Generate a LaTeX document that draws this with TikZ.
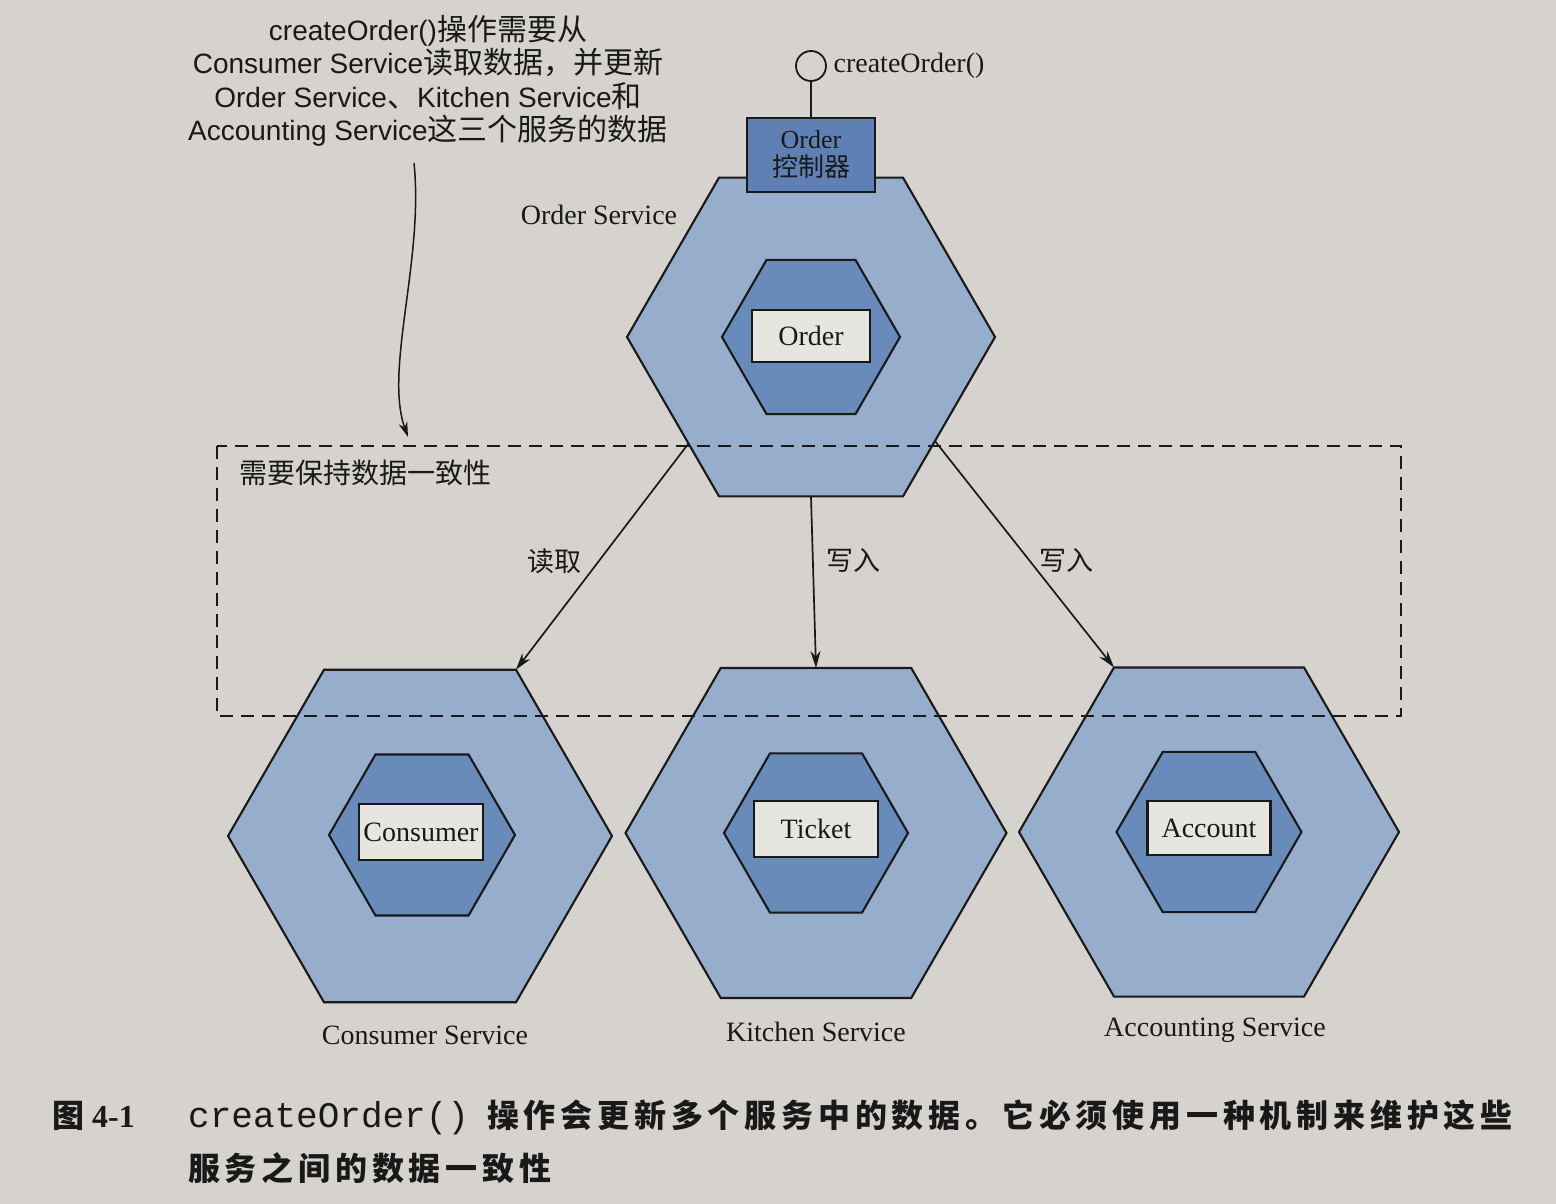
\documentclass[tikz,border=0pt]{standalone}
\usepackage{fontspec}
\setmainfont{Liberation Serif}
\newfontfamily\cjk{Noto Sans CJK SC}
\newfontfamily\cjkcap[LetterSpace=15]{Noto Sans CJK SC}
\newfontfamily\ansans{Liberation Sans}
\newfontfamily\capmono{Liberation Mono}
\usetikzlibrary{shapes.geometric,arrows.meta}
\definecolor{paper}{RGB}{214,211,206}
\definecolor{hexout}{RGB}{150,174,204}
\definecolor{hexin}{RGB}{104,139,186}
\definecolor{ctrlfill}{RGB}{94,128,178}
\definecolor{boxfill}{RGB}{230,229,223}
\definecolor{ink}{RGB}{25,25,25}
\begin{document}
\begin{tikzpicture}[x=1pt,y=-1pt,
  outerhex/.style={regular polygon, regular polygon sides=6, draw=ink, line width=2.1pt, fill=hexout, inner sep=0pt, outer sep=0pt},
  innerhex/.style={regular polygon, regular polygon sides=6, draw=ink, line width=2.1pt, fill=hexin, inner sep=0pt, outer sep=0pt},
  entity/.style={rectangle, draw=ink, line width=2.1pt, fill=boxfill, inner sep=0pt, outer sep=0pt, text=ink, font=\fontsize{28}{32}\selectfont},
  ctrlbox/.style={rectangle, draw=ink, line width=2.1pt, fill=ctrlfill, inner sep=0pt, outer sep=0pt, align=center, text=ink, minimum width=128pt, minimum height=74pt, font=\fontsize{26}{28}\selectfont},
  svclabel/.style={text=ink, inner sep=0pt, font=\fontsize{28}{32}\selectfont},
  cjklabel/.style={text=ink, inner sep=0pt, font=\cjk\fontsize{27}{30}\selectfont},
  conn/.style={draw=ink, line width=1.7pt, -{Stealth[length=17pt,width=10pt]}},
  frame/.style={draw=ink, line width=2pt, dash pattern=on 13pt off 8pt}
]
\useasboundingbox (0,0) rectangle (1556,1204);
\fill[paper] (0,0) rectangle (1556,1204);

% annotation
\node[align=center, text=ink, inner sep=0pt, font=\fontsize{28}{33.5}\selectfont] (note) at (428,81)
  {{\ansans createOrder()}{\cjk\fontsize{30}{33.5}\selectfont 操作需要从}\\
   {\ansans Consumer Service}{\cjk\fontsize{30}{33.5}\selectfont 读取数据，并更新}\\
   {\ansans Order Service}{\cjk\fontsize{30}{33.5}\selectfont 、}{\ansans Kitchen Service}{\cjk\fontsize{30}{33.5}\selectfont 和}\\
   {\ansans Accounting Service}{\cjk\fontsize{30}{33.5}\selectfont 这三个服务的数据}};
\coordinate (notearrowstart) at (414,163);
\coordinate (notearrowend) at (408,437);
\draw[draw=ink, line width=1.5pt, -{Stealth[length=15pt,width=9pt]}] (notearrowstart) .. controls (424,260) and (384,370) .. (notearrowend);

% Order service
\node[outerhex, minimum size=368pt] (order) at (811,337) {};
\node[innerhex, minimum size=178pt] (orderin) at (811,337) {};
\node[entity, minimum width=118pt, minimum height=52pt] (orderent) at (811,336) {Order};
\node[ctrlbox] (ctrl) at (811,155) {Order\\{\cjk 控制器}};
\node[circle, draw=ink, line width=1.8pt, fill=paper, minimum size=30pt, inner sep=0pt, outer sep=0pt] (iface) at (811,66) {};
\draw[draw=ink, line width=1.8pt] (iface.south) -- (ctrl.north);
\node[svclabel] (ifacelbl) at (909,66) {createOrder()};
\node[svclabel] (orderlbl) at (599,215) {Order Service};

% Consumer service
\node[outerhex, minimum size=384pt] (consumer) at (420,836) {};
\node[innerhex, minimum size=186pt] (consumerin) at (422,835) {};
\node[entity, minimum width=124pt, minimum height=56pt] (consument) at (421,832) {Consumer};
\node[svclabel] (consumerlbl) at (425,1035) {Consumer Service};

% Kitchen service
\node[outerhex, minimum size=381pt] (kitchen) at (816,833) {};
\node[innerhex, minimum size=184pt] (kitchenin) at (816,833) {};
\node[entity, minimum width=124pt, minimum height=56pt] (ticket) at (816,829) {Ticket};
\node[svclabel] (kitchenlbl) at (816,1032) {Kitchen Service};

% Accounting service
\node[outerhex, minimum size=380pt] (accounting) at (1209,832) {};
\node[innerhex, minimum size=185pt] (accountingin) at (1209,832) {};
\node[entity, minimum width=123pt, minimum height=54pt] (account) at (1209,828) {Account};
\node[svclabel] (accountinglbl) at (1215,1030) {Accounting Service};

% connectors
\draw[conn] (order.221) -- (consumer.60);
\draw[conn] (order.south) -- (kitchen.north);
\draw[conn] (order.-40) -- (accounting.120);
\node[cjklabel] (readlbl) at (554,561) {读取};
\node[cjklabel] (write1lbl) at (853,560) {写入};
\node[cjklabel] (write2lbl) at (1066,560) {写入};

% consistency frame
\draw[frame] (217,446) rectangle (1401,716);
\node[text=ink, inner sep=0pt, font=\cjk\fontsize{28}{32}\selectfont] (framelbl) at (365,473) {需要保持数据一致性};

% caption
\node[anchor=base west, text=ink, inner sep=0pt] (figno) at (52,1127)
  {{\cjk\bfseries\fontsize{32}{36}\selectfont 图}\fontsize{32}{36}\selectfont\bfseries\ 4-1};
\node[anchor=base west, text=ink, inner sep=0pt] (cap1) at (188,1127)
  {{\capmono\fontsize{36}{40}\selectfont createOrder()}\hspace{18pt}{\cjkcap\bfseries\fontsize{32}{36}\selectfont 操作会更新多个服务中的数据。它必须使用一种机制来维护这些}};
\node[anchor=base west, text=ink, inner sep=0pt] (cap2) at (188,1180)
  {{\cjkcap\bfseries\fontsize{32}{36}\selectfont 服务之间的数据一致性}};
\end{tikzpicture}
\end{document}
